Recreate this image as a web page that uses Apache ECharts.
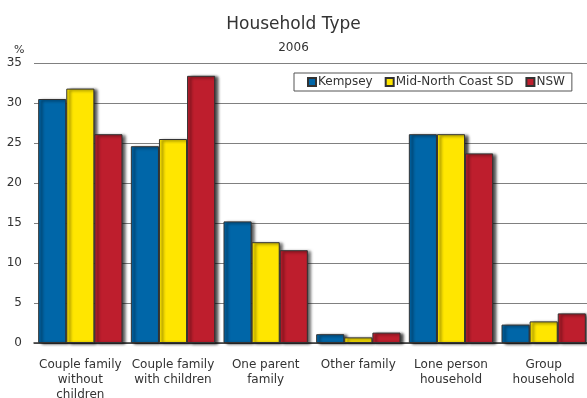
<!DOCTYPE html>
<html>
<head>
<meta charset="utf-8">
<script src="https://cdn.jsdelivr.net/npm/echarts@6/dist/echarts.min.js"></script>
<style>html,body{margin:0;padding:0;background:#fff}#c{width:587px;height:398px}</style>
</head>
<body>
<div id="c"></div>
<script>
var categories = ['Couple family\nwithout\nchildren', 'Couple family\nwith children', 'One parent\nfamily', 'Other family', 'Lone person\nhousehold', 'Group\nhousehold'];
var seriesNames = ['Kempsey', 'Mid-North Coast SD', 'NSW'];
var kempsey = [30.5, 24.6, 15.2, 1.1, 26.1, 2.3];
var midNorthCoast = [31.8, 25.5, 12.6, 0.7, 26.1, 2.7];
var nsw = [26.1, 33.4, 11.6, 1.3, 23.7, 3.7];
var yTicks = [0, 5, 10, 15, 20, 25, 30, 35];
var colors = ['#0066a8', '#ffe600', '#be1e2d'];
var font = 'DejaVu Sans, sans-serif';

var chart = echarts.init(document.getElementById('c'));
var data = [kempsey, midNorthCoast, nsw];
chart.setOption({
  animation: false,
  title: [
    {text: 'Household Type', left: 'center', top: 11, textStyle: {fontFamily: font, fontSize: 17, fontWeight: 'normal', color: '#333'}},
    {text: '2006', left: 'center', top: 37, textStyle: {fontFamily: font, fontSize: 12, fontWeight: 'normal', color: '#333'}},
    {text: '%', left: 9, top: 40, textStyle: {fontFamily: font, fontSize: 11, fontWeight: 'normal', color: '#333'}}
  ],
  legend: {
    data: seriesNames,
    left: 294, top: 73,
    orient: 'horizontal',
    itemWidth: 8, itemHeight: 8, itemGap: 12,
    icon: 'rect',
    borderColor: '#555', borderWidth: 1,
    padding: [3, 7, 3, 13],
    backgroundColor: '#fff',
    textStyle: {fontFamily: font, fontSize: 12, color: '#333', padding: [0, 0, 0, -3]}
  },
  grid: {left: 34, top: 63, width: 556, height: 280, containLabel: false, outerBoundsMode: 'none'},
  xAxis: {
    type: 'category',
    data: categories,
    axisLine: {lineStyle: {color: '#333', width: 1.5}},
    axisTick: {show: false},
    axisLabel: {fontFamily: font, fontSize: 12, color: '#333', lineHeight: 15, margin: 14, interval: 0}
  },
  yAxis: {
    type: 'value',
    min: yTicks[0], max: yTicks[yTicks.length - 1], interval: 5,
    axisLine: {show: false},
    axisTick: {show: false},
    splitLine: {lineStyle: {color: '#808080', width: 1}},
    axisLabel: {fontFamily: font, fontSize: 12, color: '#333', margin: 12}
  },
  series: seriesNames.map(function (n, i) {
    return {
      name: n, type: 'bar', data: data[i],
      barGap: '0%', barCategoryGap: '9%',
      itemStyle: {color: colors[i], borderColor: '#333', borderWidth: 1,
        shadowColor: 'rgba(0,0,0,0.75)', shadowBlur: 3, shadowOffsetX: 3, shadowOffsetY: 1}
    };
  })
});
</script>
</body>
</html>
